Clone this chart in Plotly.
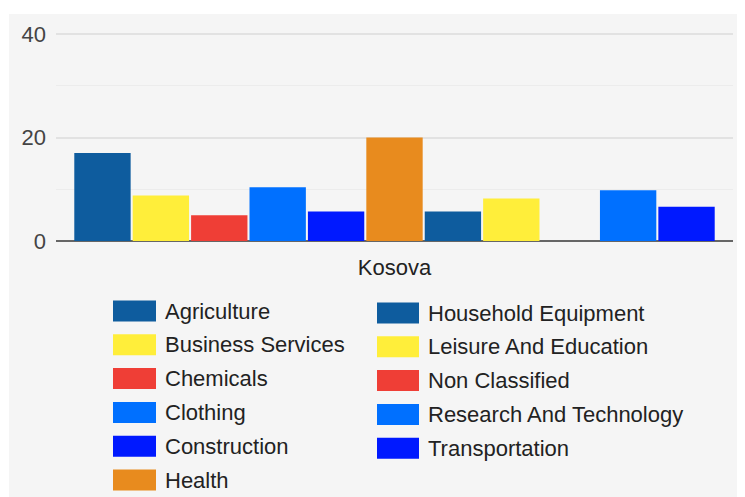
import plotly.graph_objects as go

categories = ["Kosova"]
series_names = [
    "Agriculture", "Business Services", "Chemicals", "Clothing", "Construction",
    "Health", "Household Equipment", "Leisure And Education", "Non Classified",
    "Research And Technology", "Transportation",
]
series_values = [17.0, 8.8, 5.0, 10.4, 5.7, 20.0, 5.7, 8.2, None, 9.8, 6.6]
series_colors = [
    "#0e5c9e", "#ffee3a", "#ef3e36", "#0070ff", "#0019ff",
    "#e88b1e", "#0e5c9e", "#ffee3a", "#ef3e36", "#0070ff", "#0019ff",
]
y_tick_vals = [0, 20, 40]
y_tick_text = ["0", "20", "40"]

# the page body has an 8px margin; lay out in screen pixels and shift
OFF = 8
W, H = 745 - OFF, 497 - OFF
Y_MAX = 40.39
SX0, SX1 = 56, 733          # plot area in screen pixels
SY_TOP, SY_BOT = 32, 241
L, R = SX0 - OFF, W - (SX1 - OFF)
T, B = SY_TOP - OFF, H - (SY_BOT - OFF)
PW, PH = SX1 - SX0, SY_BOT - SY_TOP


def xp(px):
    return (px - SX0) / PW


def yp(py):
    return (SY_BOT - py) / PH


fig = go.Figure()
for name, val, col in zip(series_names, series_values, series_colors):
    fig.add_trace(go.Bar(
        x=categories, y=[val], name=name, marker_color=col,
        marker_line_width=0, showlegend=False,
    ))

FONT = "Liberation Sans, Arial, sans-serif"

shapes = [
    dict(type="rect", xref="paper", yref="paper", x0=xp(9), x1=xp(760),
         y0=yp(510), y1=yp(14), fillcolor="#f5f5f5", line_width=0, layer="below"),
]
annotations = []

left_n = 6
for i, (name, col) in enumerate(zip(series_names, series_colors)):
    if i < left_n:
        cy = 311 + i * 33.8
        sx0, sx1, tx = 113, 156, 163
    else:
        cy = 313 + (i - left_n) * 33.8
        sx0, sx1, tx = 377, 419, 426
    shapes.append(dict(type="rect", xref="paper", yref="paper",
                       x0=xp(sx0), x1=xp(sx1), y0=yp(cy + 10.5), y1=yp(cy - 10.5),
                       fillcolor=col, line_width=0, layer="above"))
    annotations.append(dict(xref="paper", yref="paper", x=xp(tx), y=yp(cy),
                            xanchor="left", yanchor="middle", showarrow=False,
                            text=name, font=dict(family=FONT, size=22, color="#222222")))

fig.update_layout(
    width=W, height=H,
    margin=dict(l=L, r=R, t=T, b=B, pad=0),
    paper_bgcolor="white", plot_bgcolor="#f5f5f5",
    barmode="group", bargap=0.051, bargroupgap=0.035,
    font=dict(family=FONT, size=22, color="#444444"),
    xaxis=dict(showgrid=False, showline=False, ticks="", range=[-0.5, 0.5],
               tickfont=dict(color="#222222", size=22), ticklabelstandoff=11,
               fixedrange=True),
    yaxis=dict(range=[0, Y_MAX], tickvals=y_tick_vals, ticktext=y_tick_text,
               showgrid=True, gridcolor="#e2e2e2", gridwidth=2,
               zeroline=True, zerolinecolor="#666666", zerolinewidth=2,
               showline=False, ticks="", ticklabelstandoff=9,
               minor=dict(tickvals=[10, 30], showgrid=True, gridcolor="#ececec", gridwidth=1),
               tickfont=dict(color="#444444", size=22)),
    shapes=shapes,
    annotations=annotations,
    showlegend=False,
)

fig.write_html("out.html")
